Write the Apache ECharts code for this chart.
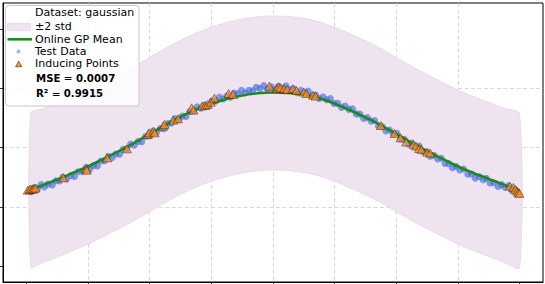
<!DOCTYPE html>
<html>
<head>
<meta charset="utf-8">
<style>html,body{margin:0;padding:0;background:#fff;}#chart{width:545px;height:284px;}</style>
<script src="https://cdn.jsdelivr.net/npm/echarts@6/dist/echarts.min.js"></script>
</head>
<body>
<div id="chart"></div>
<script>
// ---- data ----
const xTicks = [-4, -3, -2, -1, 0, 1, 2, 3, 4];
const yTicks = [-0.5, 0, 0.5, 1.0, 1.5];

const meanX = [-3.93,-3.75,-3.5,-3.25,-3.0,-2.75,-2.5,-2.25,-2.0,-1.75,-1.5,-1.25,-1.0,-0.75,-0.5,-0.25,0,
               0.25,0.5,0.75,1.0,1.25,1.5,1.75,2.0,2.25,2.5,2.75,3.0,3.25,3.5,3.75,4.0];
const meanY = [0.148,0.18,0.23,0.285,0.34,0.405,0.47,0.54,0.615,0.69,0.76,0.82,0.87,0.91,0.94,0.958,0.965,
               0.96,0.945,0.915,0.87,0.815,0.755,0.69,0.615,0.54,0.47,0.405,0.34,0.285,0.235,0.185,0.138];
const bandUpper = [0.792,0.826,0.876,0.931,0.986,1.051,1.116,1.186,1.261,1.336,1.406,1.466,1.516,1.556,1.586,1.604,1.611,
                   1.606,1.591,1.561,1.516,1.461,1.401,1.336,1.261,1.186,1.116,1.051,0.986,0.931,0.881,0.831,0.786];
const bandLower = [-0.507,-0.475,-0.425,-0.37,-0.315,-0.25,-0.185,-0.115,-0.04,0.035,0.105,0.165,0.215,0.255,0.285,0.303,0.31,
                   0.305,0.29,0.26,0.215,0.16,0.1,0.035,-0.04,-0.115,-0.185,-0.25,-0.315,-0.37,-0.42,-0.47,-0.517];

const testX = [-3.92,-3.87,-3.82,-3.76,-3.71,-3.65,-3.58,-3.52,-3.46,-3.41,-3.35,-3.28,-3.22,-3.16,-3.09,-3.03,-2.97,-2.91,-2.85,-2.79,
  -2.73,-2.67,-2.61,-2.55,-2.49,-2.43,-2.37,-2.31,-2.25,-2.19,-2.13,-2.07,-2.01,-1.95,-1.89,-1.83,-1.77,-1.71,-1.65,-1.59,
  -1.53,-1.47,-1.41,-1.35,-1.29,-1.23,-1.17,-1.11,-1.05,-0.99,-0.93,-0.87,-0.81,-0.75,-0.69,-0.63,-0.57,-0.51,-0.45,-0.39,
  -0.33,-0.27,-0.21,-0.15,-0.09,-0.03,0.03,0.09,0.15,0.21,0.27,0.33,0.39,0.45,0.51,0.57,0.63,0.69,0.75,0.81,
  0.87,0.93,0.99,1.05,1.11,1.17,1.23,1.29,1.35,1.41,1.47,1.53,1.59,1.65,1.71,1.77,1.83,1.89,1.95,2.01,
  2.07,2.13,2.19,2.25,2.31,2.37,2.43,2.49,2.55,2.61,2.67,2.73,2.79,2.85,2.91,2.97,3.03,3.09,3.16,3.22,
  3.28,3.35,3.41,3.46,3.52,3.58,3.65,3.71,3.76,3.82,3.87,3.92,3.96];
const testY = [0.128,0.162,0.155,0.187,0.167,0.191,0.183,0.220,0.218,0.250,0.234,0.262,0.256,0.295,0.297,0.333,0.320,0.349,0.344,0.386,
  0.388,0.426,0.415,0.446,0.443,0.486,0.490,0.529,0.519,0.551,0.549,0.593,0.598,0.638,0.628,0.660,0.658,0.702,0.706,0.745,
  0.734,0.765,0.762,0.804,0.806,0.844,0.831,0.859,0.853,0.893,0.892,0.926,0.909,0.934,0.924,0.960,0.954,0.984,0.963,0.983,
  0.979,1.009,0.999,1.023,0.997,1.012,0.992,1.017,1.001,1.021,0.989,0.999,0.963,0.983,0.962,0.976,0.940,0.944,0.914,0.929,
  0.904,0.914,0.873,0.873,0.839,0.851,0.822,0.828,0.784,0.782,0.745,0.754,0.723,0.728,0.682,0.678,0.640,0.648,0.616,0.620,
  0.573,0.569,0.531,0.539,0.507,0.512,0.466,0.463,0.426,0.435,0.404,0.410,0.366,0.364,0.329,0.340,0.311,0.319,0.275,0.276,
  0.242,0.254,0.228,0.240,0.200,0.203,0.171,0.187,0.165,0.177,0.142,0.148,0.122];

const inducingX = [-3.98,-3.95,-3.93,-3.90,-3.88,-3.85,-3.40,-3.03,-3.02,-2.69,-2.37,-2.03,-2.01,-1.94,-1.92,-1.78,-1.76,-1.62,-1.54,
  -1.32,-1.29,-1.15,-1.10,-1.06,-1.01,-0.95,-0.72,-0.65,-0.06,0.06,0.09,0.12,0.18,0.23,0.32,0.38,0.50,0.54,0.65,0.69,
  1.75,1.97,2.07,2.16,2.28,2.32,2.37,2.41,2.50,2.55,3.84,3.90,3.93,3.96,3.98,4.00];
const inducingY = [0.140,0.145,0.150,0.148,0.152,0.158,0.245,0.321,0.309,0.413,0.489,0.610,0.624,0.639,0.624,0.681,0.695,0.731,0.743,
  0.835,0.816,0.850,0.855,0.864,0.883,0.917,0.956,0.948,1.018,0.996,1.013,1.004,0.996,0.990,0.996,0.982,0.968,0.956,0.942,0.934,
  0.686,0.619,0.582,0.546,0.526,0.512,0.492,0.484,0.461,0.453,0.174,0.163,0.146,0.132,0.118,0.113];

const legendTitle = 'Dataset: gaussian';
const mseText = '0.0007';
const r2Text = '0.9915';

// ---- colours ----
const bandColor = '#EEE3EE';
const bandEdge = '#E6D6E6';
const meanColor = '#1C8A1C';
const testColor = 'rgba(65,105,225,0.78)';
const legendDotColor = 'rgba(65,105,225,0.5)';
const indColor = 'rgba(248,140,35,0.9)';

const zip = (a, b) => a.map((v, i) => [v, b[i]]);

const chart = echarts.init(document.getElementById('chart'), null, {renderer: 'svg'});
const gridLine = {show: true, showMinLine: false, showMaxLine: false, lineStyle: {color: '#d0d0d0', width: 0.8, type: [4, 2.5]}};
const font = 'DejaVu Sans';
const txt = (y, s) => ({type: 'text', z: 101, x: 35, y: y,
  style: {text: s, font: '11px ' + font, fill: '#000', verticalAlign: 'middle', align: 'left'}});

chart.setOption({
  animation: false,
  backgroundColor: '#fff',
  grid: {left: 3, top: 3, right: 2, bottom: 2, containLabel: false, outerBoundsMode: 'none',
         show: true, borderColor: '#000', borderWidth: 1, backgroundColor: 'transparent'},
  xAxis: {type: 'value', min: -4.38, max: 4.38, splitNumber: 8,
    axisLine: {show: true, onZero: false, lineStyle: {color: '#000', width: 1}},
    axisTick: {show: true, inside: false, length: 3.5, customValues: xTicks, lineStyle: {color: '#000', width: 0.8}},
    axisLabel: {show: false},
    splitLine: gridLine},
  yAxis: {type: 'value', min: -0.635, max: 1.72, splitNumber: 5,
    axisLine: {show: true, onZero: false, lineStyle: {color: '#000', width: 1}},
    axisTick: {show: true, inside: false, length: 3.5, customValues: yTicks, lineStyle: {color: '#000', width: 0.8}},
    axisLabel: {show: false},
    splitLine: gridLine},
  series: [
    {name: '±2 std', type: 'custom', z: 1,
     data: zip(meanX, meanY),
     renderItem: function (params, api) {
       if (params.dataIndex !== 0) return null;
       const pts = [];
       for (let i = 0; i < meanX.length; i++) pts.push(api.coord([meanX[i], bandUpper[i]]));
       for (let i = meanX.length - 1; i >= 0; i--) pts.push(api.coord([meanX[i], bandLower[i]]));
       return {type: 'polygon', shape: {points: pts, smooth: 0.25},
               style: {fill: bandColor, stroke: bandEdge, lineWidth: 0.8}};
     }},
    {name: 'Test Data', type: 'scatter', z: 2, data: zip(testX, testY),
     symbol: 'circle', symbolSize: 7, itemStyle: {color: testColor}},
    {name: 'Online GP Mean', type: 'line', z: 3, data: zip(meanX, meanY), smooth: 0.3,
     showSymbol: false, symbol: 'none', lineStyle: {color: meanColor, width: 2.6}},
    {name: 'Inducing Points', type: 'scatter', z: 4, data: zip(inducingX, inducingY),
     symbol: 'triangle', symbolSize: [9, 8],
     itemStyle: {color: indColor, borderColor: 'rgba(40,20,0,0.9)', borderWidth: 0.6}}
  ],
  graphic: {elements: [
      {type: 'rect', z: 100, shape: {x: 5.5, y: 5.5, width: 133.5, height: 100.5, r: 3},
       style: {fill: 'rgba(255,255,255,0.8)', stroke: '#c8c8c8', lineWidth: 1}},
      txt(12.7, legendTitle),
      {type: 'rect', z: 101, shape: {x: 7.5, y: 23.3, width: 23, height: 7.4}, style: {fill: bandColor, stroke: bandEdge, lineWidth: 0.8}},
      txt(26.8, '±2 std'),
      {type: 'line', z: 101, shape: {x1: 7.5, y1: 39.3, x2: 32, y2: 39.3}, style: {stroke: meanColor, lineWidth: 2.6}},
      txt(39.3, 'Online GP Mean'),
      {type: 'circle', z: 101, shape: {cx: 18.5, cy: 51.5, r: 1.9}, style: {fill: legendDotColor}},
      txt(51.3, 'Test Data'),
      {type: 'polygon', z: 101, shape: {points: [[15.6, 66.8], [21.8, 66.8], [18.7, 61]]},
       style: {fill: indColor, stroke: 'rgba(40,20,0,0.9)', lineWidth: 0.6}},
      txt(63.3, 'Inducing Points'),
      {type: 'text', z: 101, x: 36, y: 78.3, style: {text: '{b|MSE} = {b|' + mseText + '}', font: '10.5px ' + font, fill: '#000',
        verticalAlign: 'middle', rich: {b: {fontWeight: 'bold', fontFamily: font, fontSize: 10.2}}}},
      {type: 'text', z: 101, x: 36, y: 93.5, style: {text: '{b|R²} = {b|' + r2Text + '}', font: '10.5px ' + font, fill: '#000',
        verticalAlign: 'middle', rich: {b: {fontWeight: 'bold', fontFamily: font, fontSize: 10.2}}}}
  ]}
});
</script>
</body>
</html>
